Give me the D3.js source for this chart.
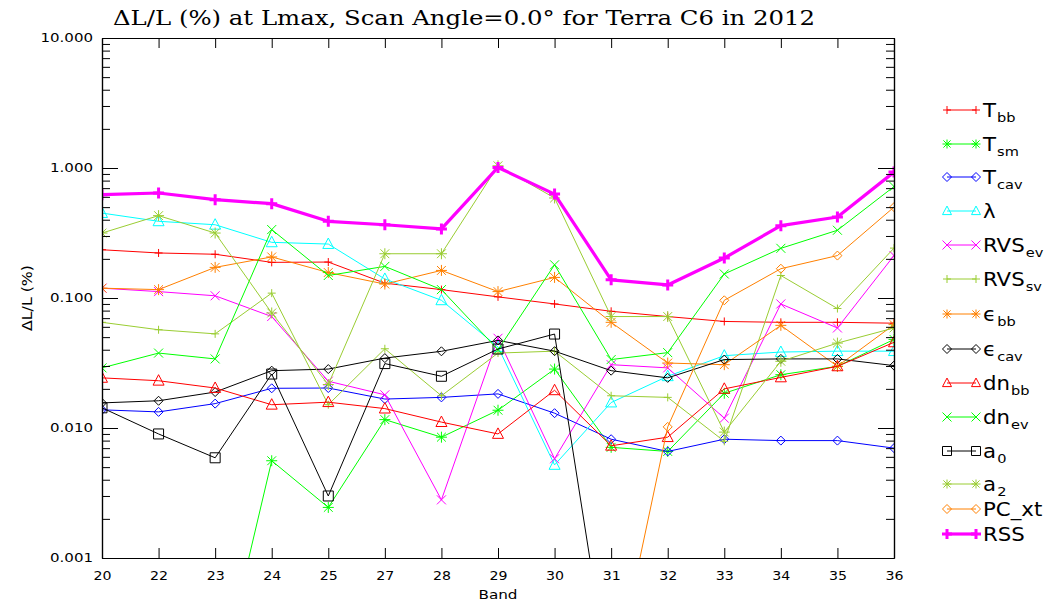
<!DOCTYPE html>
<html>
<head>
<meta charset="utf-8">
<script src="https://cdn.jsdelivr.net/npm/d3@7"></script>
<style>
  html, body { margin: 0; padding: 0; background: #fff; }
  svg { display: block; }
</style>
</head>
<body>
<svg id="chart" width="1044" height="603"></svg>
<script>
// ---- Data ----
const bands = ["20","22","23","24","25","27","28","29","30","31","32","33","34","35","36"];
const yTickValues = [0.001, 0.01, 0.1, 1, 10];
const yTickLabels = ["0.001", "0.010", "0.100", "1.000", "10.000"];

const Tbb    = [0.235,0.222,0.217,0.188,0.189,0.130,0.116,0.102,0.090,0.079,0.072,0.066,0.065,0.065,0.064];
const Tsm    = [0.00008,0.00008,0.00008,0.0056,0.00245,0.0116,0.0085,0.0137,0.0284,0.0071,0.0066,0.0185,0.0257,0.0298,0.048];
const Tcav   = [0.0138,0.0133,0.0154,0.0202,0.0203,0.0167,0.0172,0.0183,0.0130,0.0082,0.0066,0.0082,0.0080,0.0080,0.0070];
const lambda = [0.45,0.389,0.366,0.268,0.26,0.14,0.096,0.042,0.0052,0.0157,0.025,0.036,0.0384,0.039,0.039];
const RVSev  = [0.119,0.112,0.104,0.072,0.0229,0.018,0.0028,0.049,0.0058,0.0307,0.029,0.0119,0.090,0.0588,0.212];
const RVSsv  = [0.065,0.057,0.053,0.109,0.0151,0.0407,0.0177,0.0377,0.039,0.0177,0.0172,0.0079,0.149,0.083,0.242];
const ebb    = [0.119,0.116,0.172,0.207,0.157,0.128,0.163,0.112,0.144,0.065,0.0316,0.0307,0.0616,0.0298,0.0624];
const ecav   = [0.0156,0.0162,0.0189,0.0276,0.0284,0.0345,0.0389,0.0472,0.039,0.0276,0.0243,0.0336,0.034,0.034,0.0302];
const dnbb   = [0.0243,0.0231,0.0203,0.0151,0.0158,0.0141,0.0111,0.009,0.0195,0.0073,0.0085,0.020,0.0245,0.0298,0.0456];
const dnev   = [0.029,0.0377,0.034,0.336,0.149,0.175,0.116,0.040,0.18,0.0336,0.038,0.153,0.241,0.332,0.72];
const a0     = [0.0143,0.009,0.0059,0.026,0.003,0.0313,0.025,0.0405,0.0528,0.00009,0.00009,0.00009,0.00009,0.00009,0.00009];
const a2     = [0.316,0.43,0.316,0.0767,0.0216,0.219,0.219,1.04,0.588,0.072,0.072,0.0093,0.0326,0.045,0.0588];
const PCxt   = [0.0001,0.0001,0.0001,0.0001,0.0001,0.0001,0.0001,0.0001,0.0001,0.00009,0.0102,0.096,0.168,0.212,0.50];
const RSS    = [0.623,0.642,0.571,0.532,0.389,0.366,0.34,1.01,0.63,0.138,0.126,0.203,0.36,0.42,0.93];

const seriesNames   = ["Tbb","Tsm","Tcav","lambda","RVSev","RVSsv","ebb","ecav","dnbb","dnev","a0","a2","PCxt","RSS"];
const seriesValues  = [Tbb, Tsm, Tcav, lambda, RVSev, RVSsv, ebb, ecav, dnbb, dnev, a0, a2, PCxt, RSS];
const legendMain    = ["T","T","T","λ","RVS","RVS","ϵ","ϵ","dn","dn","a","a","PC_xt","RSS"];
const legendSub     = ["bb","sm","cav","","ev","sv","bb","cav","bb","ev","0","2","",""];

// ---- Styles ----
const colors  = ["#ff0000","#00ff00","#0000ff","#00ffff","#ff00ff","#9acd32","#ff8000","#000000","#ff0000","#00ff00","#000000","#9acd32","#ff8000","#ff00ff"];
const symbols = ["plus","asterisk","diamond","triangle","x","plus","asterisk","diamond","triangle","x","square","asterisk","diamond","plus"];

const L = 102, R = 894, T = 38, B = 558;
const svg = d3.select("#chart");

const x = d3.scalePoint().domain(bands).range([L, R]);
const y = d3.scaleLog().domain([0.001, 10]).range([B, T]);

function markerPath(type, h) {
  switch (type) {
    case "plus": return `M${-h},0H${h}M0,${-h}V${h}`;
    case "x": return `M${-h},${-h}L${h},${h}M${-h},${h}L${h},${-h}`;
    case "asterisk": { const d = h*0.8; return `M${-h},0H${h}M0,${-h}V${h}M${-d},${-d}L${d},${d}M${-d},${d}L${d},${-d}`; }
    case "diamond": return `M0,${-h}L${h},0L0,${h}L${-h},0Z`;
    case "triangle": return `M${-h},${h*0.8}L${h},${h*0.8}L0,${-h*1.1}Z`;
    case "square": return `M${-h},${-h}H${h}V${h}H${-h}Z`;
  }
}
const markerSize = { plus: 4, x: 4.5, asterisk: 5.5, diamond: 4.5, triangle: 5.5, square: 5 };

// clip
svg.append("defs").append("clipPath").attr("id", "plotclip")
  .append("rect").attr("x", L).attr("y", T).attr("width", R - L).attr("height", B - T);

const plot = svg.append("g").attr("clip-path", "url(#plotclip)");

const line = d3.line().x((d, i) => x(bands[i])).y(d => y(d));

seriesValues.forEach((vals, si) => {
  const isRSS = seriesNames[si] === "RSS";
  const g = plot.append("g");
  g.append("path").datum(vals)
    .attr("d", line)
    .attr("fill", "none")
    .attr("stroke", colors[si])
    .attr("stroke-width", isRSS ? 3.2 : 1)
    .attr("stroke-linejoin", "round");
  const h = isRSS ? 5.5 : markerSize[symbols[si]];
  g.selectAll("path.m").data(vals).enter().append("path")
    .attr("class", "m")
    .attr("transform", (d, i) => `translate(${x(bands[i])},${y(d)})`)
    .attr("d", markerPath(symbols[si], h))
    .attr("fill", "none")
    .attr("stroke", colors[si])
    .attr("stroke-width", isRSS ? 3 : 1);
});

// ---- Axes ----
const fontSans = "'DejaVu Sans', sans-serif";
const axisColor = "#000";
function styleAxis(g) {
  g.selectAll("path.domain").attr("stroke", axisColor).attr("stroke-width", 1.2);
  g.selectAll(".tick line").attr("stroke", axisColor).attr("stroke-width", 1);
  g.selectAll("text").attr("fill", "#000").style("font-family", fontSans);
}

// bottom
const gB = svg.append("g").attr("transform", `translate(0,${B})`)
  .call(d3.axisBottom(x).tickSizeInner(-10).tickSizeOuter(0).tickPadding(13));
styleAxis(gB);
gB.selectAll("text").style("font-size", "13px")
  .attr("textLength", d => d.length * 9).attr("lengthAdjust", "spacingAndGlyphs");

// top
const gT = svg.append("g").attr("transform", `translate(0,${T})`)
  .call(d3.axisTop(x).tickSizeInner(-10).tickSizeOuter(0).tickFormat(""));
styleAxis(gT);

// left major
const minorVals = [];
[0.001, 0.01, 0.1, 1].forEach(dec => { for (let k = 2; k <= 9; k++) minorVals.push(dec * k); });

const gL = svg.append("g").attr("transform", `translate(${L},0)`)
  .call(d3.axisLeft(y).tickValues(yTickValues).tickSizeInner(-16).tickSizeOuter(0).tickPadding(9)
    .tickFormat((d, i) => yTickLabels[i]));
styleAxis(gL);
gL.selectAll("text").style("font-size", "12px")
  .attr("textLength", function() { const t = this.textContent; return (t.length - 1) * 9.5 + 5; })
  .attr("lengthAdjust", "spacingAndGlyphs");
const gLm = svg.append("g").attr("transform", `translate(${L},0)`)
  .call(d3.axisLeft(y).tickValues(minorVals).tickSizeInner(-8).tickSizeOuter(0).tickFormat(""));
styleAxis(gLm);

// right
const gR = svg.append("g").attr("transform", `translate(${R},0)`)
  .call(d3.axisRight(y).tickValues(yTickValues).tickSizeInner(-16).tickSizeOuter(0).tickFormat(""));
styleAxis(gR);
const gRm = svg.append("g").attr("transform", `translate(${R},0)`)
  .call(d3.axisRight(y).tickValues(minorVals).tickSizeInner(-8).tickSizeOuter(0).tickFormat(""));
styleAxis(gRm);

// ---- Titles ----
svg.append("text")
  .attr("x", 113).attr("y", 25)
  .attr("textLength", 702).attr("lengthAdjust", "spacingAndGlyphs")
  .style("font-family", "'DejaVu Serif', serif").style("font-size", "20px")
  .attr("fill", "#000")
  .text("ΔL/L (%) at Lmax, Scan Angle=0.0° for Terra C6 in 2012");

svg.append("text")
  .attr("x", (L + R) / 2).attr("y", 599)
  .attr("text-anchor", "middle")
  .attr("textLength", 39).attr("lengthAdjust", "spacingAndGlyphs")
  .style("font-family", fontSans).style("font-size", "13px")
  .text("Band");

svg.append("text")
  .attr("transform", `translate(32,${(T + B) / 2}) rotate(-90)`)
  .attr("text-anchor", "middle")
  .attr("textLength", 66).attr("lengthAdjust", "spacingAndGlyphs")
  .style("font-family", fontSans).style("font-size", "14px")
  .text("ΔL/L (%)");

// ---- Legend ----
const legendY = [110, 144, 177, 211, 245, 279, 314, 349, 383, 417, 451, 484, 509, 534];
const lx1 = 947, lx2 = 976;
seriesNames.forEach((name, si) => {
  const isRSS = name === "RSS";
  const ly = legendY[si];
  const g = svg.append("g");
  g.append("line").attr("x1", lx1).attr("x2", lx2).attr("y1", ly).attr("y2", ly)
    .attr("stroke", colors[si]).attr("stroke-width", isRSS ? 3.2 : 1);
  const h = isRSS ? 5 : Math.min(markerSize[symbols[si]], 4.5);
  [lx1, lx2].forEach(px => {
    g.append("path").attr("transform", `translate(${px},${ly})`)
      .attr("d", markerPath(symbols[si], h))
      .attr("fill", "none").attr("stroke", colors[si]).attr("stroke-width", isRSS ? 3 : 1);
  });
  const t = g.append("text")
    .attr("transform", `translate(983,${ly + 7}) scale(1.12,1)`)
    .style("font-family", fontSans).style("font-size", "19px").attr("fill", "#000");
  t.append("tspan").text(legendMain[si]);
  if (legendSub[si]) {
    t.append("tspan").attr("dy", 5).attr("dx", 1).style("font-size", "13px").text(legendSub[si]);
  }
});
</script>
</body>
</html>
